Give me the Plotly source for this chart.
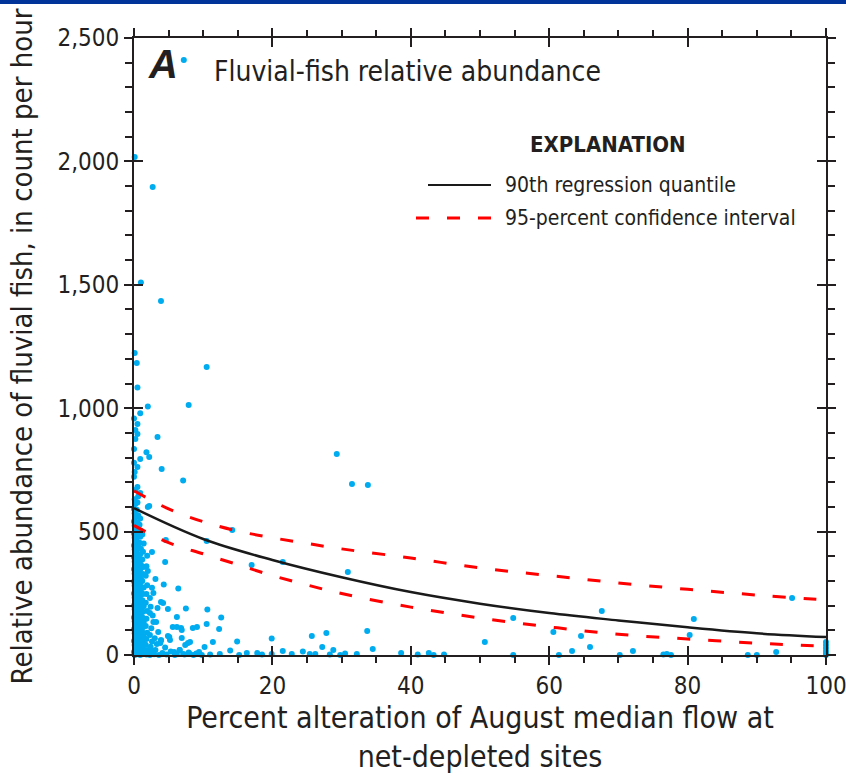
import plotly.graph_objects as go

# ---------------- data ----------------
# Sites: percent alteration of August median flow (x) and fluvial-fish relative abundance (y)
site_pct_alteration = [
    7.2, 0.1, 2.7, 1.0, 3.9, 0.1, 0.4, 10.5, 0.5, 2.0, 7.9, 0.9, 0.5, 0.5, 0.2, 3.4, 0.0, 1.8, 2.2, 0.9,
    0.5, 4.0, 7.1, 29.3, 31.5, 33.8, 0.5, 0.2, 0.9, 2.2, 2.0, 14.2, 10.5, 4.6, 2.6, 4.5, 17.0, 21.5, 30.9, 2.0,
    3.1, 4.3, 6.4, 2.8, 2.3, 3.9, 3.4, 4.9, 7.5, 10.6, 6.2, 12.6, 3.2, 6.2, 6.9, 8.5, 9.1, 10.5, 12.3, 3.5,
    4.9, 5.1, 7.8, 6.9, 11.4, 14.9, 19.9, 25.7, 27.8, 33.7, 34.5, 27.2, 21.5, 24.4, 28.8, 10.2, 13.9, 16.3, 17.8, 12.4,
    6.2, 7.1, 8.1, 3.8, 4.5, 2.8, 7.4, 5.8, 9.0, 9.8, 11.0, 15.2, 18.5, 19.9, 22.8, 25.4, 26.2, 28.3, 29.8, 30.5,
    32.2, 38.6, 41.0, 42.6, 43.3, 44.8, 50.7, 54.8, 54.8, 60.6, 64.6, 63.3, 61.4, 65.9, 67.6, 70.2, 72.1, 76.5, 77.0, 77.6,
    80.9, 80.3, 88.7, 90.0, 92.8, 95.1, 100, 100, 100, 100, 100, 100,
    4.2, 5.6, 6.8, 5.2, 8.1, 6.6, 3.9, 2.3, 2.8,
    0.1, 0.0, 0.2, 0.1, 0.0, 0.2, 0.1, 0.0, 0.2, 0.1, 0.0, 0.2, 0.1, 0.0, 0.2, 0.1, 0.0, 0.2, 0.1, 0.0,
    0.2, 0.1, 0.0, 0.2, 0.1, 0.0, 0.2, 0.1, 0.0, 0.2, 0.1, 0.0, 0.2, 0.1, 0.0, 0.2, 0.1, 0.0, 0.2, 0.1,
    0.0, 0.1, 0.0, 0.2, 0.0,
    0.5, 0.6, 0.4, 0.5, 0.6, 0.4, 0.5, 0.6, 0.4, 0.5, 0.6, 0.4, 0.5, 0.6, 0.4, 0.5, 0.6, 0.4, 0.5, 0.6,
    0.4, 0.5, 0.6, 0.4, 0.5, 0.6, 0.4, 0.5, 0.6, 0.4, 0.5, 0.6, 0.4, 0.5, 0.6, 0.4, 0.5, 0.6,
    0.9, 1.0, 0.8, 0.9, 1.0, 0.8, 0.9, 1.0, 0.8, 0.9, 1.0, 0.8, 0.9, 1.0, 0.8, 0.9, 1.0, 0.8, 0.9, 1.0,
    0.8, 0.9, 1.0, 0.8, 0.9, 1.0, 0.8, 0.9, 1.0, 0.8, 0.9,
    1.3, 1.4, 1.2, 1.3, 1.4, 1.2, 1.3, 1.4, 1.2, 1.3, 1.4, 1.2, 1.3, 1.4, 1.2, 1.3, 1.4, 1.2, 1.3, 1.4, 1.2,
    1.8, 1.9, 1.7, 1.8, 1.9, 1.7, 1.8, 1.9, 1.7, 1.8, 1.9, 1.7, 1.8, 1.9,
    2.3, 2.5, 2.4, 2.6, 2.3, 2.5, 2.7, 2.4, 2.6, 2.9, 3.1, 3.3, 3.0,
    3.6, 4.1, 4.7, 5.3, 5.9, 6.6, 7.3, 7.9, 8.6, 9.4, 3.9,
]
site_abundance = [
    2411, 2018, 1896, 1509, 1434, 1224, 1183, 1167, 1084, 1007, 1013, 980, 936, 895, 875, 883, 835, 822, 802, 794,
    762, 754, 707, 814, 693, 689, 681, 669, 656, 604, 600, 506, 462, 466, 417, 377, 365, 377, 336, 340,
    308, 286, 269, 251, 231, 215, 190, 186, 188, 184, 154, 152, 134, 113, 101, 109, 113, 126, 105, 93,
    77, 73, 49, 69, 53, 55, 67, 77, 89, 97, 24, 32, 16, 14, 20, 32, 18, 8, 8, 4,
    4, 4, 4, 49, 30, 12, 41, 12, 6, 0, 2, 0, 2, 4, 4, 4, 4, 2, 0, 6,
    4, 8, 2, 8, 0, 2, 53, 150, 0, 93, 77, 16, 0, 32, 178, 0, 16, 2, 4, 0,
    146, 81, 0, 0, 12, 231, 53, 41, 28, 16, 6, 0,
    211, 113, 109, 61, 53, 20, 60, 170, 134,
    0, 12, 26, 41, 57, 73, 88, 104, 121, 137, 152, 168, 185, 201, 218, 233, 249, 266, 282, 298,
    314, 330, 347, 363, 379, 396, 411, 428, 444, 460, 476, 492, 509, 525, 541, 558, 574, 592, 612, 631,
    722, 741, 779, 912, 958,
    4, 19, 35, 50, 66, 82, 97, 113, 129, 145, 160, 176, 192, 207, 223, 239, 254, 270, 286, 302,
    318, 333, 349, 365, 381, 397, 413, 429, 445, 462, 480, 497, 519, 538, 566, 589, 618, 642,
    0, 16, 31, 47, 63, 79, 95, 111, 127, 143, 159, 175, 191, 207, 223, 240, 257, 274, 291, 309,
    327, 346, 366, 387, 408, 431, 455, 479, 503, 528, 553,
    6, 22, 39, 56, 74, 93, 112, 132, 153, 175, 198, 222, 247, 273, 300, 328, 357, 387, 418, 452, 488,
    2, 20, 42, 65, 90, 118, 147, 178, 212, 247, 283, 321, 360, 402,
    0, 14, 33, 55, 81, 108, 160, 196, 272, 3, 20, 45, 68,
    0, 8, 2, 14, 0, 20, 2, 10, 0, 12, 60,
]

# 90th regression quantile and its 95-percent confidence interval
q90_x = [0, 10, 20, 30, 40, 50, 60, 70, 80, 90, 100]
q90_y = [595, 470, 385, 315, 255, 208, 170, 140, 112, 88, 73]

ci_x = [0, 5, 10, 15, 20, 25, 30, 40, 50, 60, 70, 80, 90, 100]
ci_upper_y = [665, 592, 540, 502, 475, 452, 430, 393, 353, 322, 292, 266, 243, 223]
ci_lower_y = [525, 455, 410, 366, 322, 284, 249, 194, 150, 114, 84, 65, 48, 35]

x_tick_vals = [0, 20, 40, 60, 80, 100]
y_tick_vals = [0, 500, 1000, 1500, 2000, 2500]

legend_labels = ["90th regression quantile", "95-percent confidence interval"]

# ---------------- styling ----------------
FONT = "Liberation Sans Narrow, Arial Narrow, DejaVu Sans Condensed, sans-serif"
INK = "#231f20"
BLUE = "rgb(0,172,240)"
RED = "rgb(255,0,0)"
DASH = "13px,18px"

W, H = 846, 779
L, R, T, B = 134, 20, 38, 124
PW, PH = W - L - R, H - T - B


def px_x(px):
    return (px - L) / PW


def px_y(py):
    return (H - B - py) / PH


fig = go.Figure()

fig.add_trace(go.Scatter(
    x=site_pct_alteration, y=site_abundance, mode="markers",
    marker=dict(color=BLUE, size=6, line=dict(width=0)),
    cliponaxis=False, showlegend=False, name="Sites",
))
fig.add_trace(go.Scatter(
    x=ci_x, y=ci_upper_y, mode="lines", line=dict(color=RED, width=3, dash=DASH, shape="spline"),
    showlegend=False, name=legend_labels[1],
))
fig.add_trace(go.Scatter(
    x=ci_x, y=ci_lower_y, mode="lines", line=dict(color=RED, width=3, dash=DASH, shape="spline"),
    showlegend=False, name=legend_labels[1],
))
fig.add_trace(go.Scatter(
    x=q90_x, y=q90_y, mode="lines", line=dict(color="#1a1a1a", width=2.5, shape="spline"),
    showlegend=False, name=legend_labels[0],
))
# helper trace for the overlay axes that draw the inner half of the major ticks
fig.add_trace(go.Scatter(x=[None], y=[None], xaxis="x2", yaxis="y2", showlegend=False, hoverinfo="skip"))

tickfont = dict(family=FONT, size=24, color=INK)

fig.update_layout(
    width=W, height=H,
    margin=dict(l=L, r=R, t=T, b=B, pad=0, autoexpand=False),
    paper_bgcolor="white", plot_bgcolor="white",
    font=dict(family=FONT, color=INK),
    xaxis=dict(
        range=[0, 100], tickvals=x_tick_vals, ticks="outside", ticklen=8, tickwidth=2, tickcolor=INK,
        minor=dict(dtick=5, ticks="outside", ticklen=6, tickwidth=1.6, tickcolor=INK),
        showline=True, linewidth=2, linecolor=INK, mirror="ticks", automargin=False,
        ticklabeloverflow="allow",
        showgrid=False, zeroline=False, tickfont=tickfont,
        title=dict(text="Percent alteration of August median flow at<br>net-depleted sites",
                   font=dict(family=FONT, size=30, color=INK), standoff=8),
    ),
    yaxis=dict(
        range=[0, 2500], tickvals=y_tick_vals, tickformat=",", ticks="outside", ticklen=8, tickwidth=2,
        tickcolor=INK, automargin=False, ticklabeloverflow="allow",
        minor=dict(dtick=100, ticks="outside", ticklen=7, tickwidth=1.6, tickcolor=INK),
        showline=True, linewidth=2, linecolor=INK, mirror="ticks",
        showgrid=False, zeroline=False, tickfont=tickfont,
        title=dict(text="Relative abundance of fluvial fish, in count per hour",
                   font=dict(family=FONT, size=29, color=INK), standoff=16),
    ),
    xaxis2=dict(
        range=[0, 100], tickvals=x_tick_vals, overlaying="x", anchor="y", side="bottom",
        ticks="inside", ticklen=9, tickwidth=2, tickcolor=INK, mirror="ticks",
        showline=False, showgrid=False, zeroline=False, showticklabels=False,
    ),
    yaxis2=dict(
        range=[0, 2500], tickvals=y_tick_vals, overlaying="y", anchor="x", side="left",
        ticks="inside", ticklen=9, tickwidth=2, tickcolor=INK, mirror="ticks",
        showline=False, showgrid=False, zeroline=False, showticklabels=False,
    ),
)

annotations = [
    dict(text="<b><i>A</i></b>", x=px_x(146), y=px_y(64), xanchor="left", yanchor="middle",
         font=dict(family="Liberation Sans, Arial, sans-serif", size=40, color=INK)),
    dict(text="Fluvial-fish relative abundance", x=px_x(212), y=px_y(72), xanchor="left", yanchor="middle",
         font=dict(family=FONT, size=28, color=INK)),
    dict(text="<b>EXPLANATION</b>", x=px_x(608), y=px_y(145), xanchor="center", yanchor="middle",
         font=dict(family=FONT, size=22, color=INK)),
    dict(text=legend_labels[0], x=px_x(503), y=px_y(185), xanchor="left", yanchor="middle",
         font=dict(family=FONT, size=21, color=INK)),
    dict(text=legend_labels[1], x=px_x(503), y=px_y(218), xanchor="left", yanchor="middle",
         font=dict(family=FONT, size=21, color=INK)),
]
for a in annotations:
    a.update(xref="paper", yref="paper", showarrow=False)
fig.update_layout(annotations=annotations)

fig.update_layout(shapes=[
    dict(type="line", xref="paper", yref="paper", x0=px_x(428), x1=px_x(491), y0=px_y(185), y1=px_y(185),
         line=dict(color="#1a1a1a", width=2)),
    dict(type="line", xref="paper", yref="paper", x0=px_x(416), x1=px_x(492), y0=px_y(218), y1=px_y(218),
         line=dict(color=RED, width=3, dash=DASH)),
    dict(type="rect", xref="paper", yref="paper", x0=px_x(0), x1=px_x(W), y0=px_y(4), y1=px_y(0),
         fillcolor="#00339a", line=dict(width=0), layer="above"),
])

fig.write_html("out.html")
